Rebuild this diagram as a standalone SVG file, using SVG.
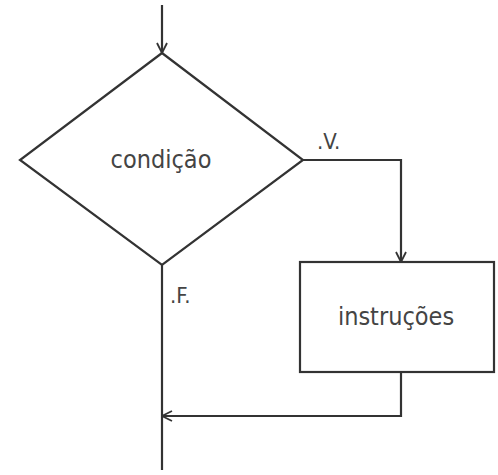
<svg xmlns="http://www.w3.org/2000/svg" width="498" height="475" viewBox="0 0 498 475">
<style>
.ln{fill:none;stroke:#333;stroke-width:2.2}
.sh{fill:#fff;stroke:#333;stroke-width:2.2}
.t{font-family:"DejaVu Sans Condensed","DejaVu Sans",sans-serif;font-size:25px;fill:#444}
.lb{font-family:"DejaVu Sans Condensed","DejaVu Sans",sans-serif;font-size:22px;fill:#444}
</style>
<defs>
<marker id="ah" viewBox="0 0 12 12" refX="11" refY="6" markerWidth="12" markerHeight="12" markerUnits="userSpaceOnUse" orient="auto">
<path d="M1,1 L11,6 L1,11" fill="none" stroke="#333" stroke-width="1.8"/>
</marker>
</defs>
<rect x="0" y="0" width="498" height="475" fill="#fff"/>
<g id="connectors">
<line class="ln" x1="162" y1="5" x2="162" y2="53" marker-end="url(#ah)"/>
<polyline class="ln" points="303,160 401,160 401,262" marker-end="url(#ah)"/>
<polyline class="ln" points="401,372 401,416 162,416" marker-end="url(#ah)"/>
<line class="ln" x1="162" y1="265" x2="162" y2="470"/>
<text class="lb" x="317" y="149">.V.</text>
<text class="lb" x="170" y="303">.F.</text>
</g>
<g id="condicao">
<polygon class="sh" points="162,53 303,160 162,265 20,160"/>
<text class="t" x="161" y="168" text-anchor="middle">condição</text>
</g>
<g id="instrucoes">
<rect class="sh" x="300" y="262" width="194" height="110"/>
<text class="t" x="396" y="325" text-anchor="middle">instruções</text>
</g>
</svg>
